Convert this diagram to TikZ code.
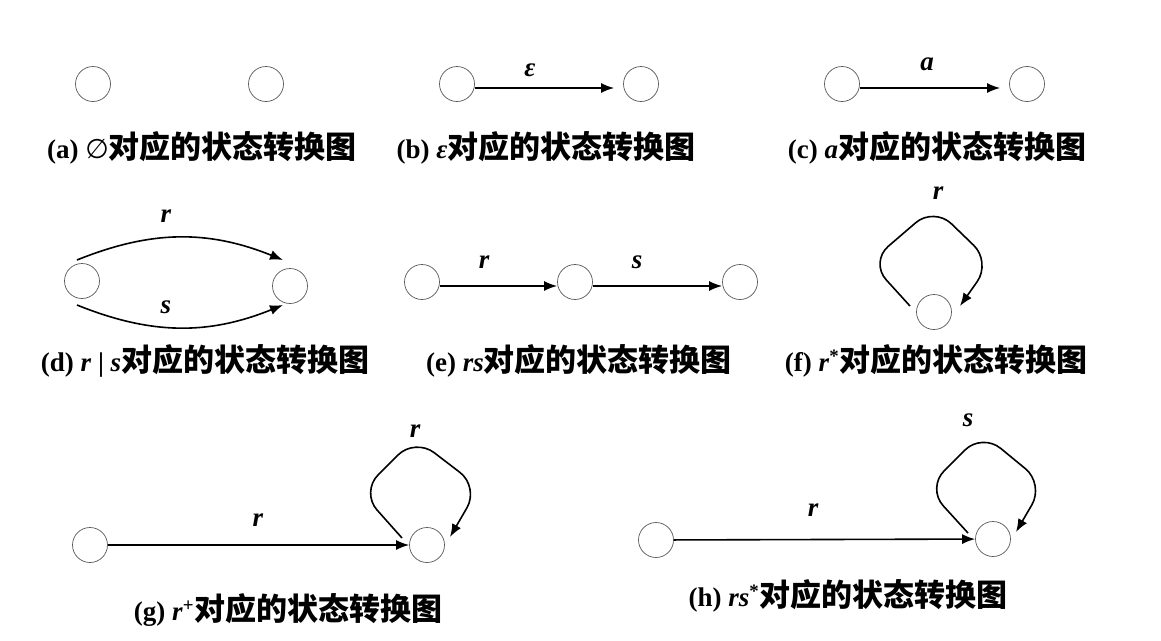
\documentclass[tikz,border=0pt]{standalone}
\usepackage{fontspec}
\setmainfont{Liberation Serif}
\newfontfamily\cjkfam{Noto Sans CJK SC}
\newfontfamily\symfam{DejaVu Sans}
\usetikzlibrary{arrows.meta,calc}
\newcommand\cjktxt[1]{{\cjkfam\bfseries\fontsize{31}{31}\selectfont #1}}
\begin{document}
\begin{tikzpicture}[x=1pt,y=-1pt,
 st/.style={circle,draw=black!65,line width=0.7pt,minimum size=35pt,inner sep=0pt},
 arr/.style={line width=1.6pt,-{Latex[length=13pt,width=10pt]}},
 selfloop/.style={arr,rounded corners=24pt},
 lbl/.style={font=\fontsize{27}{27}\selectfont\bfseries\itshape,inner sep=0pt},
 capt/.style={font=\fontsize{27}{27}\selectfont\bfseries,inner sep=0pt}]
\useasboundingbox (0,0) rectangle (1161,640);

% (a)
\node[st] (a1) at (93,84) {};
\node[st] (a2) at (266,84) {};
\node[capt] (capa) at (202,148) {(a) {\symfam\mdseries ∅}\cjktxt{对应的状态转换图}};

% (b)
\node[st] (b1) at (457,84) {};
\node[st] (b2) at (641,84) {};
\draw[arr] ([yshift=-4pt]b1.east) -- ([xshift=-9pt,yshift=-4pt]b2.west);
\node[lbl] (lb) at (530,70) {ε};
\node[capt] (capb) at (546,148) {(b) \textit{ε}\cjktxt{对应的状态转换图}};

% (c)
\node[st] (c1) at (842,84) {};
\node[st] (c2) at (1027,84) {};
\draw[arr] ([yshift=-4pt]c1.east) -- ([xshift=-9pt,yshift=-4pt]c2.west);
\node[lbl] (lc) at (927,64) {a};
\node[capt] (capc) at (937,148) {(c) \textit{a}\cjktxt{对应的状态转换图}};

% (d)
\node[st] (d1) at (82,281) {};
\node[st] (d2) at (290,286) {};
\draw[arr] ($(d1)+(-5,-21)$) to[bend left=22] ($(d2)+(-7,-26)$);
\draw[arr] ($(d1)+(-5,24)$) to[bend right=22] ($(d2)+(-7,19)$);
\node[lbl] (ld1) at (166,216) {r};
\node[lbl] (ld2) at (166,307) {s};
\node[capt] (capd) at (205,361) {(d) \textit{r} | \textit{s}\cjktxt{对应的状态转换图}};

% (e)
\node[st] (e1) at (422,282) {};
\node[st] (e2) at (575,282) {};
\node[st] (e3) at (740,282) {};
\draw[arr] ([yshift=-4pt]e1.east) -- ([yshift=-4pt]e2.west);
\draw[arr] ([yshift=-4pt]e2.east) -- ([yshift=-4pt]e3.west);
\node[lbl] (le1) at (484,262) {r};
\node[lbl] (le2) at (637,262) {s};
\node[capt] (cape) at (579,361) {(e) \textit{rs}\cjktxt{对应的状态转换图}};

% (f)
\node[st] (f1) at (934,312) {};
\draw[selfloop] ($(f1)+(-24,-6)$) -- ($(f1)+(-64,-50)$) -- ($(f1)+(0,-105)$) -- ($(f1)+(57,-50)$) -- ($(f1)+(26,-6)$);
\node[lbl] (lf) at (938,193) {r};
\node[capt] (capf) at (936,361) {(f) \textit{r}\textsuperscript{*}\cjktxt{对应的状态转换图}};

% (g)
\node[st] (g1) at (90,545) {};
\node[st] (g2) at (427,545) {};
\draw[arr] (g1) -- (g2);
\draw[selfloop] ($(g2)+(-25,-7)$) -- ($(g2)+(-66,-53)$) -- ($(g2)+(-12,-107)$) -- ($(g2)+(52,-58)$) -- ($(g2)+(23,-8)$);
\node[lbl] (lg1) at (258,520) {r};
\node[lbl] (lg2) at (415,431) {r};
\node[capt] (capg) at (288,610) {(g) \textit{r}\textsuperscript{+}\cjktxt{对应的状态转换图}};

% (h)
\node[st] (h1) at (656,540) {};
\node[st] (h2) at (993,539) {};
\draw[arr] (h1) -- (h2);
\draw[selfloop] ($(h2)+(-25,-6)$) -- ($(h2)+(-66,-51)$) -- ($(h2)+(-11,-106)$) -- ($(h2)+(51,-55)$) -- ($(h2)+(23,-7)$);
\node[lbl] (lh1) at (813,510) {r};
\node[lbl] (lh2) at (968,420) {s};
\node[capt] (caph) at (848,596) {(h) \textit{rs}\textsuperscript{*}\cjktxt{对应的状态转换图}};
\end{tikzpicture}
\end{document}
